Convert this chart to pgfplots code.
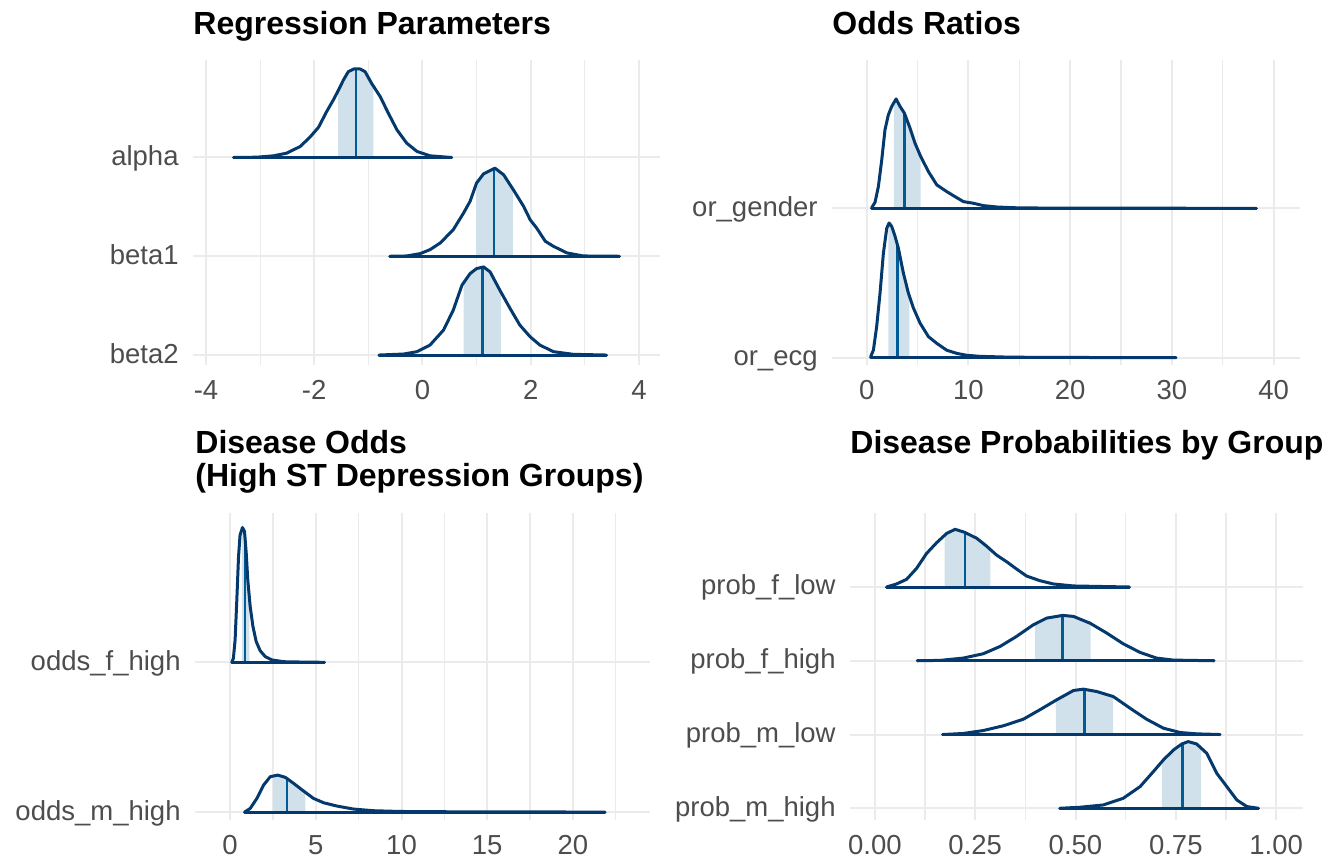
\documentclass[border=0pt]{standalone}
\usepackage{fontspec}
\setmainfont{Liberation Sans}
\usepackage{pgfplots}
\pgfplotsset{compat=1.18}
\usepackage{pgfplotstable}

\definecolor{gridc}{HTML}{EBEBEB}
\definecolor{tickc}{HTML}{4D4D4D}
\definecolor{lightfill}{HTML}{D1E1EC}
\definecolor{medc}{HTML}{005B96}
\definecolor{curvec}{HTML}{03396C}

% ---------- Panel 1 ----------
\pgfplotstableread{
x d
-3.49 0
-3.06 0.003
-2.75 0.017
-2.51 0.044
-2.26 0.111
-2.08 0.205
-1.92 0.306
-1.77 0.465
-1.64 0.589
-1.55 0.684
-1.46 0.785
-1.37 0.869
-1.27 0.896
-1.15 0.896
-1.06 0.869
-0.94 0.751
-0.78 0.616
-0.63 0.448
-0.47 0.279
-0.29 0.145
-0.10 0.061
0.14 0.017
0.54 0
}\tabAlpha
\pgfplotstableread{
x d
-1.56 0
-1.56 0.673
-1.55 0.684
-1.46 0.785
-1.37 0.869
-1.27 0.896
-1.15 0.896
-1.06 0.869
-0.94 0.751
-0.905 0.721
-0.905 0
}\shAlpha
\pgfplotstableread{
x d
-0.60 0
-0.29 0.003
-0.04 0.027
0.14 0.067
0.33 0.135
0.57 0.269
0.76 0.438
0.88 0.556
1.00 0.741
1.13 0.835
1.22 0.859
1.34 0.892
1.50 0.825
1.68 0.673
1.87 0.505
1.99 0.370
2.11 0.286
2.27 0.152
2.42 0.101
2.67 0.034
2.97 0.003
3.64 0
}\tabBetaA
\pgfplotstableread{
x d
0.99 0
0.99 0.726
1.00 0.741
1.13 0.835
1.22 0.859
1.34 0.892
1.50 0.825
1.67 0.681
1.67 0
}\shBetaA
\pgfplotstableread{
x d
-0.80 0
-0.35 0.010
-0.10 0.034
0.14 0.101
0.39 0.253
0.57 0.455
0.73 0.707
0.88 0.825
1.00 0.875
1.13 0.892
1.25 0.842
1.43 0.657
1.62 0.471
1.80 0.303
1.99 0.185
2.17 0.101
2.42 0.034
2.79 0.007
3.40 0
}\tabBetaB
\pgfplotstableread{
x d
0.76 0
0.76 0.731
0.88 0.825
1.00 0.875
1.13 0.892
1.25 0.842
1.43 0.657
1.45 0.637
1.45 0
}\shBetaB
% ---------- Panel 2 ----------
\pgfplotstableread{
x d
0.49 0.004
0.82 0.04
1.15 0.146
1.48 0.324
1.80 0.526
2.13 0.626
2.46 0.682
2.89 0.732
3.28 0.682
3.70 0.638
4.26 0.537
4.75 0.436
5.31 0.347
6.07 0.246
6.89 0.157
7.87 0.112
8.69 0.078
9.51 0.045
10.49 0.034
11.48 0.018
12.79 0.009
14.43 0.004
17.05 0.002
25.0 0.001
38.3 0
}\tabOrG
\pgfplotstableread{
x d
2.68 0
2.68 0.708
2.89 0.732
3.28 0.682
3.70 0.638
4.26 0.537
4.75 0.436
5.31 0.347
5.31 0
}\shOrG
\pgfplotstableread{
x d
0.39 0.007
0.66 0.05
0.98 0.208
1.31 0.43
1.64 0.698
1.97 0.866
2.20 0.902
2.46 0.879
2.79 0.812
3.11 0.734
3.61 0.566
4.10 0.432
4.59 0.333
5.25 0.231
6.07 0.141
6.89 0.096
7.87 0.05
8.85 0.029
9.84 0.016
11.15 0.009
13.77 0.004
17.05 0.002
30.4 0
}\tabOrE
\pgfplotstableread{
x d
2.13 0
2.13 0.891
2.20 0.902
2.46 0.879
2.79 0.812
3.11 0.734
3.61 0.566
4.10 0.432
4.20 0.412
4.20 0
}\shOrE
% ---------- Panel 3 ----------
\pgfplotstableread{
x d
0.10 0
0.19 0.027
0.29 0.149
0.39 0.416
0.49 0.706
0.58 0.85
0.72 0.90
0.84 0.873
0.94 0.729
1.03 0.55
1.17 0.373
1.33 0.24
1.52 0.139
1.75 0.078
2.05 0.038
2.44 0.016
3.12 0.004
4.09 0.002
5.50 0
}\tabOddF
\pgfplotstableread{
x d
0.68 0
0.68 0.886
0.72 0.90
0.84 0.873
0.94 0.729
1.03 0.55
1.13 0.424
1.13 0
}\shOddF
\pgfplotstableread{
x d
0.84 0
1.17 0.024
1.56 0.091
1.95 0.180
2.34 0.236
2.77 0.247
3.22 0.232
3.70 0.192
4.29 0.140
4.87 0.091
5.46 0.062
6.24 0.040
7.21 0.020
8.38 0.009
9.94 0.004
12.87 0.002
21.87 0
}\tabOddM
\pgfplotstableread{
x d
2.50 0
2.50 0.240
2.77 0.247
3.22 0.232
3.70 0.192
4.29 0.140
4.39 0.132
4.39 0
}\shOddM
% ---------- Panel 4 ----------
\pgfplotstableread{
x d
0.029 0
0.054 0.041
0.079 0.104
0.104 0.253
0.129 0.456
0.154 0.601
0.179 0.727
0.200 0.782
0.224 0.741
0.254 0.660
0.278 0.556
0.303 0.434
0.328 0.344
0.353 0.244
0.378 0.149
0.411 0.086
0.445 0.041
0.495 0.014
0.634 0
}\tabPFL
\pgfplotstableread{
x d
0.174 0
0.174 0.702
0.179 0.727
0.200 0.782
0.224 0.741
0.254 0.660
0.278 0.556
0.288 0.507
0.288 0
}\shPFL
\pgfplotstableread{
x d
0.106 0
0.162 0.005
0.220 0.036
0.270 0.095
0.312 0.194
0.353 0.330
0.395 0.488
0.428 0.578
0.468 0.615
0.495 0.601
0.536 0.510
0.578 0.375
0.619 0.230
0.661 0.113
0.702 0.036
0.744 0.009
0.845 0
}\tabPFH
\pgfplotstableread{
x d
0.399 0
0.399 0.499
0.428 0.578
0.468 0.615
0.495 0.601
0.536 0.510
0.538 0.504
0.538 0
}\shPFH
\pgfplotstableread{
x d
0.169 0
0.220 0.014
0.270 0.054
0.320 0.118
0.370 0.208
0.411 0.335
0.453 0.470
0.495 0.597
0.520 0.615
0.553 0.583
0.594 0.515
0.636 0.357
0.677 0.208
0.719 0.086
0.761 0.027
0.802 0.009
0.860 0
}\tabPML
\pgfplotstableread{
x d
0.451 0
0.451 0.464
0.453 0.470
0.495 0.597
0.520 0.615
0.553 0.583
0.594 0.515
0.594 0
}\shPML
\pgfplotstableread{
x d
0.461 0
0.511 0.014
0.569 0.045
0.619 0.136
0.661 0.294
0.694 0.497
0.719 0.655
0.744 0.790
0.765 0.872
0.781 0.904
0.802 0.872
0.827 0.746
0.852 0.475
0.877 0.294
0.902 0.113
0.927 0.023
0.956 0
}\tabPMH
\pgfplotstableread{
x d
0.715 0
0.715 0.630
0.719 0.655
0.744 0.790
0.765 0.872
0.781 0.904
0.802 0.872
0.813 0.817
0.813 0
}\shPMH

% #1 curve table, #2 shade table, #3 row, #4 median, #5 median top, #6 first x, #7 last x
\newcommand{\ridge}[7]{%
  \addplot[fill=lightfill, draw=none, forget plot] table[x=x, y expr=\thisrow{d}+#3] {#2};
  \addplot[medc, line width=1.25pt, forget plot] coordinates {(#4,#3) (#4,#5)};
  \addplot[curvec, line width=1.5pt, line join=round, line cap=round, forget plot] table[x=x, y expr=\thisrow{d}+#3] {#1};
  \addplot[curvec, line width=1.5pt, line cap=round, forget plot] coordinates {(#6,#3) (#7,#3)};
}

\pgfplotsset{ridgeaxis/.style={
  scale only axis, anchor=south west,
  axis line style={draw=none},
  major tick length=0pt, minor tick length=0pt,
  xmajorgrids, xminorgrids, ymajorgrids,
  major grid style={gridc, line width=1pt},
  minor grid style={gridc, line width=0.55pt},
  tick label style={font=\fontsize{13.75}{16}\selectfont, text=tickc},
  xticklabel style={anchor=north, inner sep=0pt, yshift=-7.5pt},
  yticklabel style={anchor=base east, inner sep=0pt, xshift=-7pt, yshift=-4pt},
  /pgf/number format/assume math mode=true,
  title style={at={(0,1)}, anchor=base west, inner sep=0pt, align=left,
    font=\fontsize{16}{16.5}\selectfont\bfseries, text=black},
}}

\begin{document}
\begin{tikzpicture}
\path[use as bounding box] (0pt,0pt) rectangle (667.5pt,-429pt);

% Panel 1
\begin{axis}[ridgeaxis, at={(96.5pt,-182.5pt)}, width=233.5pt, height=152.5pt,
  xmin=-4.24, xmax=4.39, ymin=0.899, ymax=3.987,
  xtick={-4,-2,0,2,4}, xticklabels={-4,-2,0,2,4}, minor xtick={-3,-1,1,3},
  ytick={1,2,3}, yticklabels={beta2,beta1,alpha},
  title={Regression Parameters}, title style={yshift=6.75pt}]
\ridge{\tabAlpha}{\shAlpha}{3}{-1.23}{3.896}{-3.49}{0.54}
\ridge{\tabBetaA}{\shBetaA}{2}{1.32}{2.886}{-0.60}{3.64}
\ridge{\tabBetaB}{\shBetaB}{1}{1.11}{1.889}{-0.80}{3.40}
\end{axis}

% Panel 2
\begin{axis}[ridgeaxis, at={(416pt,-182.5pt)}, width=234pt, height=152.5pt,
  xmin=-3.41, xmax=42.6, ymin=0.951, ymax=2.993,
  xtick={0,10,20,30,40}, xticklabels={0,10,20,30,40}, minor xtick={5,15,25,35},
  ytick={1,2}, yticklabels={or\_ecg,or\_gender},
  title={Odds Ratios}, title style={yshift=6.75pt}]
\ridge{\tabOrG}{\shOrG}{2}{3.70}{2.638}{0.49}{38.3}
\ridge{\tabOrE}{\shOrE}{1}{3.02}{1.756}{0.39}{30.4}
\end{axis}

% Panel 3
\begin{axis}[ridgeaxis, at={(97.5pt,-410pt)}, width=227.5pt, height=153.35pt,
  xmin=-2.05, xmax=24.5, ymin=0.947, ymax=2.995,
  xtick={0,5,10,15,20}, xticklabels={0,5,10,15,20}, minor xtick={2.5,7.5,12.5,17.5,22.5},
  ytick={1,2}, yticklabels={odds\_m\_high,odds\_f\_high},
  title={\begin{tabular}[b]{@{}l@{}}Disease Odds\\(High ST Depression Groups)\end{tabular}},
  title style={yshift=7.35pt}]
\ridge{\tabOddF}{\shOddF}{2}{0.88}{2.815}{0.10}{5.50}
\ridge{\tabOddM}{\shOddM}{1}{3.31}{1.225}{0.84}{21.87}
\end{axis}

% Panel 4
\begin{axis}[ridgeaxis, at={(425pt,-410pt)}, width=226.5pt, height=153.35pt,
  xmin=-0.062, xmax=1.067, ymin=0.841, ymax=4.999,
  xtick={0,0.25,0.5,0.75,1}, xticklabels={0.00,0.25,0.50,0.75,1.00},
  minor xtick={0.125,0.375,0.625,0.875},
  ytick={1,2,3,4}, yticklabels={prob\_m\_high,prob\_m\_low,prob\_f\_high,prob\_f\_low},
  title={Disease Probabilities by Group}, title style={yshift=23.95pt}]
\ridge{\tabPFL}{\shPFL}{4}{0.225}{4.738}{0.029}{0.634}
\ridge{\tabPFH}{\shPFH}{3}{0.468}{3.615}{0.106}{0.845}
\ridge{\tabPML}{\shPML}{2}{0.523}{2.612}{0.169}{0.860}
\ridge{\tabPMH}{\shPMH}{1}{0.767}{1.876}{0.461}{0.956}
\end{axis}
\end{tikzpicture}
\end{document}
